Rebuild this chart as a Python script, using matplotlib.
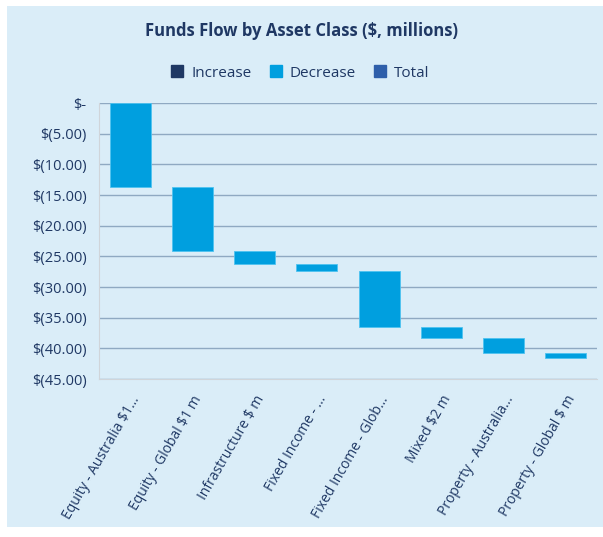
import matplotlib.pyplot as plt
import matplotlib.patches as mpatches
from matplotlib.ticker import FuncFormatter

# data
categories = ['Equity - Australia $1...', 'Equity - Global $1 m', 'Infrastructure $ m',
              'Fixed Income - ...', 'Fixed Income - Glob...', 'Mixed $2 m',
              'Property - Australia...', 'Property - Global $ m']
changes = [-13.65, -10.55, -2.0, -1.25, -9.05, -1.8, -2.45, -0.85]

inc_color = '#1F3864'
dec_color = '#009FDF'
tot_color = '#2E5FAA'
text_color = '#1F3864'
bg = '#DAEDF8'

plt.rcParams['font.family'] = ['Open Sans', 'DejaVu Sans']

fig = plt.figure(figsize=(6.03, 5.37), dpi=100)
fig.patch.set_facecolor('white')
# chart area background
rect = mpatches.Rectangle((7 / 603, 1 - 527 / 537), 1, (527 - 6) / 537,
                          transform=fig.transFigure, facecolor=bg,
                          edgecolor='none', zorder=-10)
fig.add_artist(rect)

ax = fig.add_axes([99 / 603, 1 - 379 / 537, (597 - 99) / 603, (379 - 103) / 537])
ax.set_facecolor(bg)
ax.set_zorder(1)

# waterfall bars
bottoms = []
running = 0.0
for c in changes:
    bottoms.append(running)
    running += c
x = range(len(categories))
colors = [inc_color if c > 0 else dec_color for c in changes]
ax.bar(x, changes, bottom=bottoms, width=0.66, color=colors,
       edgecolor='#4FC3F0', linewidth=0.6, zorder=3)

ax.set_xlim(-0.5, len(categories) - 0.5)
ax.set_ylim(-45, 0)
ax.set_yticks(range(-45, 1, 5))


def money(v, pos):
    if abs(v) < 1e-9:
        return '$-'
    return '$(%.2f)' % abs(v)


ax.yaxis.set_major_formatter(FuncFormatter(money))
ax.grid(axis='y', color='#8FA9C2', linewidth=1.0, zorder=1)
ax.set_axisbelow(True)
for s in ['top', 'right']:
    ax.spines[s].set_visible(False)
ax.spines['left'].set_color('#D0D5DA')
ax.spines['bottom'].set_color('#D0D5DA')
ax.tick_params(length=0, colors=text_color, labelsize=10.5)
ax.tick_params(axis='y', pad=9)
ax.tick_params(axis='x', pad=10)
ax.set_xticks(list(x))
ax.set_xticklabels(categories, rotation=60, ha='right', rotation_mode='anchor',
                   fontsize=10)

fig.text(0.5, 1 - 31 / 537, 'Funds Flow by Asset Class ($, millions)',
         ha='center', va='center', fontsize=12, fontweight='bold', color=text_color)

handles = [mpatches.Patch(color=inc_color, label='Increase'),
           mpatches.Patch(color=dec_color, label='Decrease'),
           mpatches.Patch(color=tot_color, label='Total')]
fig.legend(handles=handles, loc='center', bbox_to_anchor=(0.498, 1 - 73 / 537), ncol=3,
           frameon=False, fontsize=11, handlelength=0.8, handleheight=0.8,
           handletextpad=0.5, columnspacing=1.2, labelcolor=text_color)

fig.savefig('out.png', dpi=100, facecolor='white')
